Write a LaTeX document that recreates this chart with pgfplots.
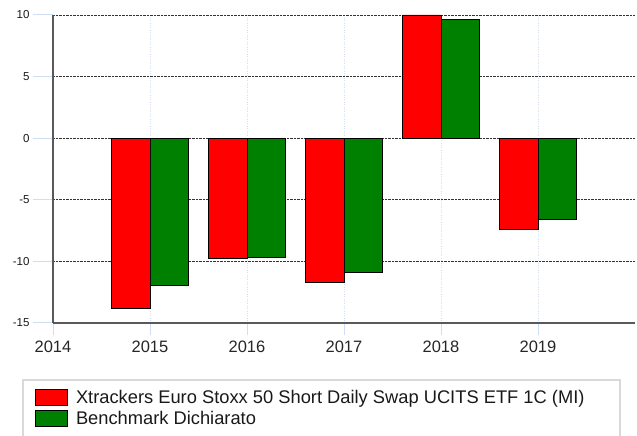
\documentclass[border=0pt]{standalone}
\usepackage{pgfplots}
\pgfplotsset{compat=1.18}
\usepackage{fontspec}
\setmainfont{Liberation Sans}
\definecolor{myred}{RGB}{255,0,0}
\definecolor{mygreen}{RGB}{0,128,0}
\definecolor{tickblue}{RGB}{205,222,245}
\begin{document}
\begin{tikzpicture}[x=1pt,y=1pt]
\path[use as bounding box] (0,0) rectangle (637,436);
\begin{axis}[
  at={(53pt,113pt)}, anchor=south west,
  scale only axis, width=582pt, height=308pt,
  xmin=2014, xmax=2020, ymin=-15, ymax=10,
  xtick={2014,2015,2016,2017,2018,2019},
  ytick={-15,-10,-5,0,5,10},
  xticklabels={2014,2015,2016,2017,2018,2019},
  yticklabels={-15,-10,-5,0,5,10},
  axis x line*=bottom, axis y line*=left,
  axis line style={draw=black!65, line width=1.5pt, -},
  tick align=outside, major tick length=20pt,
  tick style={draw=tickblue, line width=1pt},
  xtick style={/pgfplots/major tick length=12pt},
  ymajorgrids, xmajorgrids,
  y grid style={densely dotted, black!80, line width=0.8pt},
  x grid style={dotted, tickblue, line width=0.8pt},
  yticklabel style={font=\fontsize{11.5}{12}\selectfont, text=black!90},
  xticklabel style={font=\fontsize{16.5}{18}\selectfont, text=black!85, yshift=6pt},
  ybar, bar width=0.4,
  legend style={at={(axis description cs:-0.0309,-0.2127)}, anchor=north west,
    draw=none, fill=none, inner sep=0pt, row sep=2.5pt, column sep=8pt,
    font=\fontsize{18.3}{20}\selectfont, text=black!90,
    nodes={inner sep=0pt, text height=13pt, text depth=4pt}},
  legend cell align=left,
  legend image code/.code={\draw[#1, line width=0.8pt] (0pt,-6.5pt) rectangle (32pt,9.5pt);},
]
\addplot[fill=myred, draw=black, line width=0.8pt, bar shift=-0.2]
  coordinates {(2015,-13.79) (2016,-9.79) (2017,-11.73) (2018,10.0) (2019,-7.44)};
\addlegendentry{Xtrackers Euro Stoxx 50 Short Daily Swap UCITS ETF 1C (MI)}
\addplot[fill=mygreen, draw=black, line width=0.8pt, bar shift=0.2]
  coordinates {(2015,-11.92) (2016,-9.65) (2017,-10.9) (2018,9.63) (2019,-6.6)};
\addlegendentry{Benchmark Dichiarato}
\end{axis}
\draw[black!15, line width=1.2pt] (23,56) rectangle (620,-5);
\end{tikzpicture}
\end{document}
